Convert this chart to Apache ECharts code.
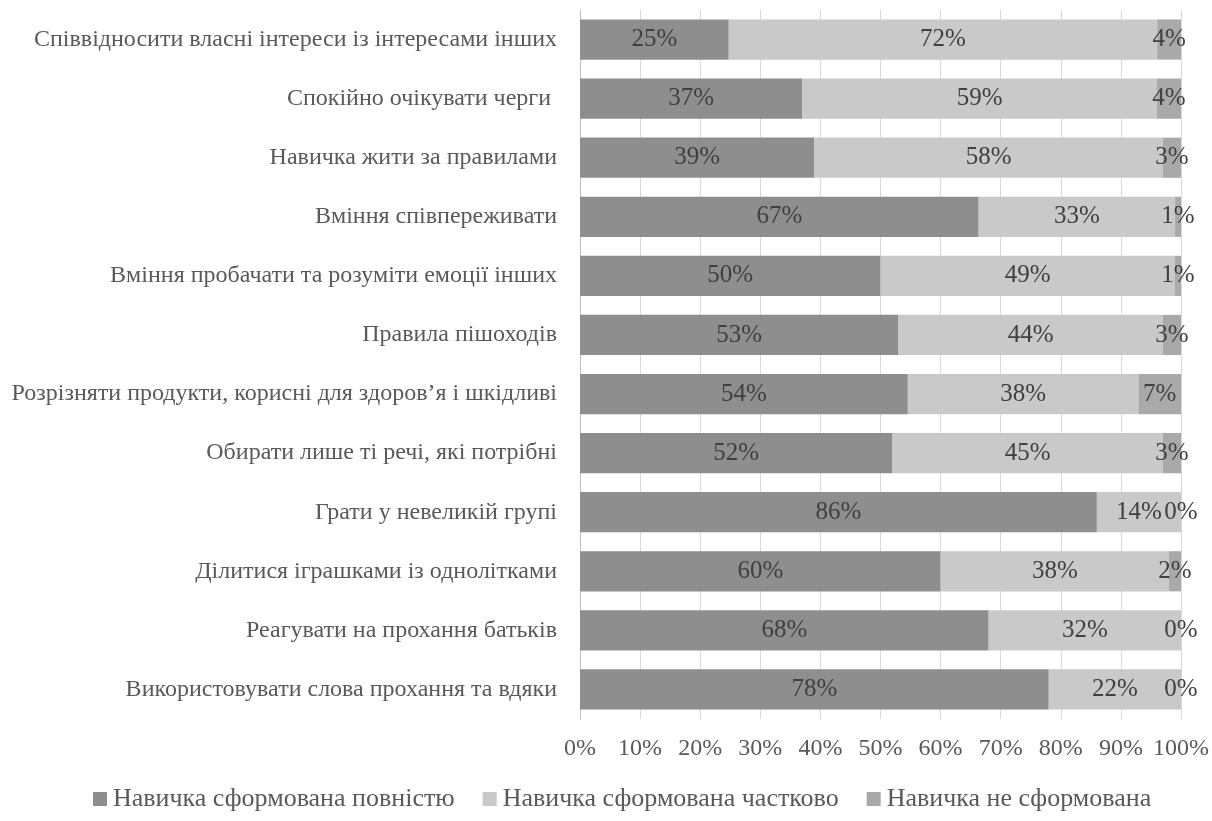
<!DOCTYPE html>
<html>
<head>
<meta charset="utf-8">
<script src="https://cdn.jsdelivr.net/npm/echarts@6/dist/echarts.min.js"></script>
<style>html,body{margin:0;padding:0;background:#fff}#c{width:1212px;height:821px}</style>
</head>
<body>
<div id="c"></div>
<script>
const categories = [
  "Співвідносити власні інтереси із інтересами інших",
  "Спокійно очікувати черги ",
  "Навичка жити за правилами",
  "Вміння співпереживати",
  "Вміння пробачати та розуміти емоції інших",
  "Правила пішоходів",
  "Розрізняти продукти, корисні для здоров’я і шкідливі",
  "Обирати лише ті речі, які потрібні",
  "Грати у невеликій групі",
  "Ділитися іграшками із однолітками",
  "Реагувати на прохання батьків",
  "Використовувати слова прохання та вдяки"
];
const seriesNames = ["Навичка сформована повністю", "Навичка сформована частково", "Навичка не сформована"];
const fully   = [25, 37, 39, 67, 50, 53, 54, 52, 86, 60, 68, 78];
const partly  = [72, 59, 58, 33, 49, 44, 38, 45, 14, 38, 32, 22];
const notYet  = [4, 4, 3, 1, 1, 3, 7, 3, 0, 2, 0, 0];
const colors = ["#8e8e8e", "#c9c9c9", "#a9a9a9"];
const tickLabels = ["0%","10%","20%","30%","40%","50%","60%","70%","80%","90%","100%"];

const raw = [fully, partly, notYet];
const totals = categories.map((_, i) => fully[i] + partly[i] + notYet[i]);
const FONT = "'Liberation Serif','Times New Roman',serif";

const series = raw.map((arr, s) => ({
  name: seriesNames[s],
  type: 'bar',
  stack: 'total',
  barCategoryGap: '32%',
  itemStyle: { color: colors[s] },
  label: {
    show: true,
    position: 'inside',
    color: '#404040',
    fontFamily: FONT,
    fontSize: 25,
    formatter: p => arr[p.dataIndex] + '%'
  },
  data: arr.map((v, i) => v / totals[i] * 100)
}));

const chart = echarts.init(document.getElementById('c'));
chart.setOption({
  animation: false,
  textStyle: { fontFamily: FONT },
  grid: { left: 580, right: 31, top: 10, bottom: 102 },
  xAxis: {
    type: 'value', min: 0, max: 100, interval: 10,
    axisLabel: { formatter: v => tickLabels[Math.round(v / 10)], color: '#595959', fontSize: 24, margin: 18, fontFamily: FONT },
    axisLine: { show: false }, axisTick: { show: false },
    splitLine: { lineStyle: { color: '#d9d9d9', width: 1 } }
  },
  yAxis: {
    type: 'category', inverse: true, data: categories,
    axisLabel: { color: '#595959', fontSize: 24, margin: 23, fontFamily: FONT },
    axisLine: { show: true, lineStyle: { color: '#bfbfbf' } },
    axisTick: { show: false }
  },
  legend: {
    top: 781, left: 88, icon: 'rect', itemWidth: 14, itemHeight: 14, itemGap: 28,
    textStyle: { color: '#595959', fontSize: 26, fontFamily: FONT, padding: [0, 0, 0, 1] },
    data: seriesNames
  },
  series
});
</script>
</body>
</html>
